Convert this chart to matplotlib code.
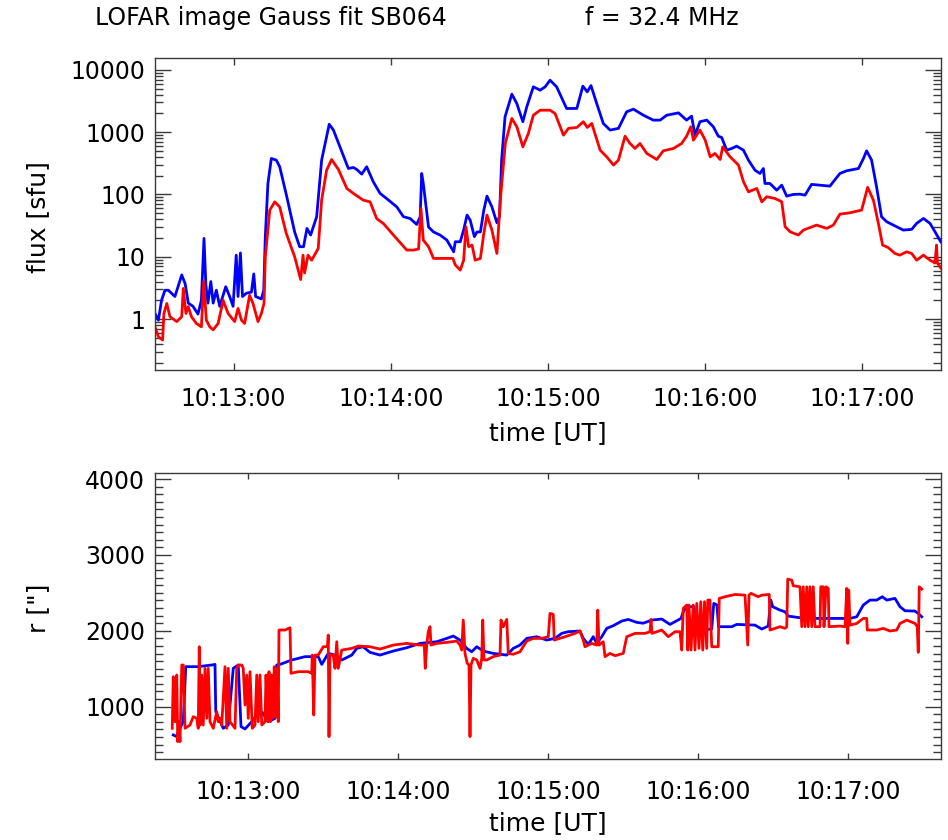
import matplotlib
matplotlib.use("Agg")
import matplotlib.pyplot as plt
from matplotlib.ticker import MultipleLocator, LogLocator, FuncFormatter, NullFormatter

# time axis: seconds after 10:12:00 UT
T0 = 10 * 3600 + 12 * 60

# ── top panel: flux [sfu] ──
t_flux_blue = [30.0, 31.3, 32.5, 33.8, 35.1, 37.6, 40.2, 41.5, 42.7, 44.5, 46.4, 47.7, 48.7, 49.4,
               50.2, 51.3, 52.2, 53.4, 54.7, 57.0, 58.5, 59.8, 61.0, 61.7, 62.6, 63.4, 64.9, 66.8,
               67.7, 68.4, 70.6, 71.5, 72.1, 73.1, 74.4, 76.3, 77.6, 80.1, 83.3, 85.2, 86.7, 88.0,
               89.4, 91.7, 93.6, 96.5, 98.1, 100.6, 103.8, 105.7, 107.0, 108.9, 110.8, 113.3, 115.9,
               118.4, 122.3, 124.8, 127.4, 129.9, 131.2, 131.8, 132.4, 134.4, 136.3, 138.8, 141.4,
               144.0, 144.6, 146.5, 147.8, 149.1, 150.3, 151.9, 152.9, 154.2, 155.5, 156.7, 158.6,
               160.5, 161.5, 162.3, 163.6, 166.2, 168.1, 170.4, 171.9, 174.4, 177.0, 178.9, 180.8,
               183.3, 187.1, 191.0, 193.3, 195.0, 196.4, 198.6, 201.1, 203.7, 206.9, 210.0, 212.6,
               216.4, 220.2, 222.8, 225.3, 229.8, 232.9, 234.8, 236.1, 238.0, 240.6, 243.1, 245.0,
               246.3, 248.2, 250.1, 252.0, 254.6, 256.5, 259.0, 260.9, 262.2, 262.8, 264.7, 267.3,
               269.2, 271.1, 273.6, 276.2, 278.1, 280.6, 283.8, 287.6, 291.4, 294.0, 298.5, 300.4,
               301.6, 303.5, 305.4, 307.3, 309.3, 311.8, 315.6, 318.8, 320.7, 323.3, 325.8, 327.7,
               329.9]
flux_blue = [1.23, 0.96, 2.0, 2.9, 2.9, 2.3, 5.1, 3.7, 1.8, 1.6, 1.2, 2.0, 19.7, 3.6,
             1.8, 4.0, 1.8, 2.9, 1.6, 3.3, 2.3, 1.6, 10.6, 2.3, 11.5, 2.3, 2.6, 2.7,
             5.3, 2.3, 2.1, 2.9, 20.9, 150, 378, 356, 278, 100, 25, 14.5, 14.5, 28.5,
             22.3, 43.8, 356, 1340, 1080, 582, 261, 271, 252, 212, 278, 160, 104,
             86, 63, 44, 41, 33, 43.8, 217, 150, 30, 25, 22.3, 18.5,
             12, 17.4, 17.4, 26.8, 46.6, 38.7, 21, 25, 25, 56, 94, 63,
             35, 44, 356, 1760, 4070, 2880, 1470, 2550, 5340, 4720, 5340, 6820,
             5340, 2400, 2400, 5470, 4440, 5600, 2880, 1380, 1080, 1150, 2120, 2340,
             1870, 1560, 1560, 1870, 2040, 1560, 1810, 895, 1470, 1560, 1220, 862,
             821, 514, 547, 596, 514, 356, 245, 217, 261, 150, 150, 117,
             141, 94, 100, 101, 97.5, 145, 141, 136, 217, 240, 261, 378,
             502, 356, 133, 43.8, 36.4, 32.2, 26.8, 27.5, 34.3, 41.2, 34.3, 25.2,
             17.4]

t_flux_red = [30.0, 31.3, 32.9, 33.4, 34.5, 35.7, 38.3, 40.2, 40.8, 41.8, 42.7, 43.9, 45.8, 47.7,
              48.6, 49.6, 50.9, 52.2, 54.1, 56.0, 57.9, 60.4, 61.7, 63.0, 64.2, 66.1, 67.4, 69.3,
              70.6, 71.6, 72.1, 73.8, 75.7, 77.6, 80.1, 83.3, 85.6, 86.5, 87.1, 88.4, 89.8, 92.3,
              93.6, 95.5, 97.4, 100.0, 103.2, 105.7, 109.5, 112.1, 114.6, 117.2, 121.0, 126.1,
              128.6, 130.6, 131.5, 132.4, 134.4, 136.3, 143.7, 144.6, 146.5, 147.8, 148.7, 149.7,
              151.0, 152.2, 154.2, 155.5, 156.7, 158.6, 160.5, 161.8, 163.7, 166.2, 168.1, 170.4,
              172.5, 174.4, 177.0, 180.8, 182.7, 185.9, 187.8, 191.0, 193.5, 195.0, 196.7, 199.9,
              202.4, 205.0, 206.9, 209.4, 211.3, 213.2, 215.1, 217.7, 221.5, 224.0, 227.9, 231.0,
              232.9, 234.5, 235.5, 238.0, 240.0, 241.9, 243.7, 245.7, 246.7, 249.5, 252.7, 254.6,
              256.5, 259.7, 261.6, 263.5, 266.6, 269.2, 270.5, 272.4, 275.5, 277.5, 282.5, 286.4,
              288.9, 291.4, 295.3, 299.7, 302.0, 304.2, 306.1, 307.7, 309.9, 312.4, 314.3, 316.9,
              318.8, 320.7, 323.3, 325.8, 327.7, 328.3, 328.6, 329.9]
flux_red = [0.75, 0.52, 0.46, 1.23, 1.78, 1.09, 0.91, 1.09, 3.1, 1.23, 1.58, 1.09, 0.85, 0.75,
            4.0, 0.96, 0.75, 0.67, 0.85, 2.0, 1.23, 0.91, 1.48, 0.96, 0.85, 2.4, 1.78, 0.91,
            1.23, 1.78, 10, 56, 76, 63, 23.7, 10, 4.3, 10.6, 5.5, 10.6, 8.8, 13.6,
            81, 245, 364, 252, 125, 104, 81, 76, 41, 34, 22.3, 12.8,
            12.8, 13.3, 59.6, 18.5, 14.5, 9.4, 9.4, 7.4, 6.1, 8.8, 30, 14.5,
            15.4, 8.8, 9.4, 23.7, 46.6, 26.8, 11.3, 81, 658, 1660, 1220, 582,
            952, 1870, 2250, 2250, 1990, 895, 1150, 1190, 1470, 1190, 1380, 514,
            402, 296, 356, 862, 658, 547, 658, 455, 364, 502, 547, 658,
            862, 1220, 744, 1080, 744, 402, 455, 364, 582, 402, 296, 160,
            110, 125, 76, 91.8, 86.3, 76.3, 30.3, 25.2, 22.3, 26.8, 32.2, 28.5,
            32.2, 48.3, 50.8, 56.1, 130, 81, 34.3, 15.4, 14.0, 11.3, 10.6, 12.0,
            11.3, 8.8, 10.6, 8.8, 8.0, 15.4, 8.0, 6.6]

# ── bottom panel: source distance r ["] ──
t_r_blue = [30.1, 31.5, 32.1, 34.1, 35.1, 40.1, 45.5, 46.8, 47.1, 50.1, 52.1, 54.1, 56.1, 57.2,
            58.8, 61.5, 63.5, 65.5, 68.1, 70.8, 71.5, 72.8, 77.5, 82.8, 88.1, 89.5, 92.1, 94.8,
            97.5, 101.5, 103.5, 106.0, 108.8, 112.8, 118.1, 123.5, 128.8, 135.5, 139.5, 142.1,
            144.8, 147.5, 149.5, 151.5, 154.1, 158.1, 163.5, 166.1, 168.8, 171.5, 175.5, 179.5,
            182.8, 185.5, 188.1, 192.8, 194.1, 196.1, 198.1, 199.5, 201.5, 203.5, 206.1, 209.5,
            212.1, 215.5, 218.1, 221.5, 225.5, 228.8, 230.8, 233.2, 234.1, 235.5, 238.4, 238.8,
            245.5, 246.3, 247.6, 248.2, 253.5, 255.5, 262.8, 265.5, 268.1, 269.1, 269.9, 272.8,
            274.8, 276.1, 280.8, 287.5, 300.8, 303.5, 306.1, 308.8, 311.5, 313.7, 315.5, 318.8,
            320.8, 322.8, 326.8, 328.1, 329.5]
r_blue = [627, 605, 671, 802, 1527, 1527, 1549, 1557, 934, 715, 758, 1505, 1549, 737,
          706, 802, 890, 934, 802, 846, 1549, 1557, 1615, 1659, 1659, 1557, 1702, 1680,
          1615, 1680, 1768, 1790, 1716, 1680, 1733, 1777, 1834, 1856, 1900, 1931,
          1878, 1768, 1724, 1790, 1733, 1702, 1680, 1768, 1812, 1900, 1922, 1878,
          1900, 1966, 1988, 1997, 1900, 1821, 1922, 1834, 1922, 2032, 2067, 2128,
          2150, 2111, 2100, 2141, 2155, 2084, 2120, 2163, 2251, 2317, 2317, 2010,
          2023, 2361, 2340, 2054, 2054, 2084, 2075, 2023, 2062, 2405, 2317, 2273,
          2251, 2194, 2172, 2163, 2163, 2185, 2339, 2405, 2405, 2449, 2405, 2427,
          2317, 2264, 2260, 2229, 2185]

t_r_red = [29.7, 30.1, 30.8, 31.5, 31.9, 32.4, 32.8, 33.5, 34.1, 34.8, 36.8, 38.1, 39.5, 40.1,
           40.5, 40.9, 41.5, 42.1, 42.8, 43.5, 44.1, 44.8, 46.1, 47.5, 48.1, 48.8, 49.5, 50.8,
           51.5, 52.1, 52.8, 54.8, 55.5, 56.1, 57.5, 58.1, 58.8, 59.5, 60.1, 60.8, 61.7, 62.8,
           63.5, 64.1, 64.8, 65.5, 66.8, 67.2, 67.9, 68.4, 68.9, 69.5, 70.0, 70.5, 71.1, 71.6,
           72.1, 72.4, 74.8, 76.8, 77.2, 80.1, 84.1, 85.5, 85.7, 86.3, 86.8, 88.1, 90.1, 91.8,
           92.1, 92.4, 92.8, 94.1, 94.8, 95.5, 96.1, 97.5, 101.5, 104.1, 108.8, 112.8, 118.1,
           123.5, 128.8, 130.5, 130.9, 131.5, 132.1, 132.8, 133.2, 135.5, 139.5, 143.5, 144.8,
           145.5, 146.1, 146.8, 147.7, 148.4, 148.8, 149.2, 150.1, 151.5, 152.8, 153.5, 153.9,
           154.4, 155.5, 158.1, 160.8, 161.2, 162.1, 163.5, 164.1, 166.1, 168.8, 171.5, 174.1,
           177.5, 180.1, 180.8, 182.1, 182.5, 186.8, 190.8, 192.8, 194.1, 194.8, 197.5, 199.5,
           199.9, 200.4, 202.1, 202.8, 204.8, 206.8, 210.1, 211.5, 214.8, 218.8, 220.8, 221.2,
           221.6, 225.5, 228.1, 230.8, 232.8, 233.5, 234.1, 235.5, 235.9, 236.4, 237.2, 238.1,
           238.8, 239.5, 240.4, 241.1, 241.9, 242.6, 243.5, 243.9, 244.8, 245.5, 248.1, 248.5,
           250.8, 254.8, 258.8, 259.9, 260.4, 261.2, 264.1, 265.5, 268.5, 268.8, 272.8, 274.8,
           275.5, 275.9, 277.5, 278.1, 280.8, 281.5, 282.1, 282.8, 283.5, 284.1, 284.8, 285.5,
           286.1, 286.8, 288.8, 289.1, 290.1, 290.4, 291.2, 292.1, 292.4, 296.8, 298.8, 299.5,
           299.9, 300.3, 300.8, 303.5, 306.1, 307.5, 307.7, 311.5, 314.1, 316.8, 319.5, 320.8,
           323.5, 326.8, 327.7, 328.1, 328.5, 329.5]
r_red = [715, 1395, 802, 1417, 539, 802, 539, 1549, 1549, 715, 758, 868, 846, 715,
         1790, 758, 1417, 758, 1505, 846, 1505, 802, 715, 934, 802, 846, 758, 1527,
         715, 1505, 802, 715, 1505, 1549, 1549, 1505, 1022, 1417, 846, 1461, 715, 758,
         1417, 802, 1417, 758, 802, 1417, 802, 1461, 802, 1417, 846, 1527, 868, 1505,
         802, 2010, 2010, 2040, 1439, 1461, 1461, 1439, 1680, 890, 1680, 1680, 1790, 1790,
         1944, 605, 1680, 1680, 1505, 1856, 1505, 1746, 1768, 1799, 1790, 1759, 1812,
         1834, 1812, 1812, 1505, 1812, 1988, 2054, 1812, 1834, 1847, 1865, 1812,
         1746, 2141, 1702, 1571, 1549, 605, 1549, 1637, 1615, 1505, 1637, 2141,
         1615, 1615, 1659, 1680, 2141, 2054, 2150, 1702, 1690, 1724, 1865, 1900,
         1900, 1922, 2229, 2216, 1878, 1922, 1966, 1997, 1878, 1790, 1834, 1812,
         2273, 1812, 1856, 1659, 1702, 1672, 1702, 1922, 1966, 1966, 1988, 2150,
         1966, 2010, 1922, 1988, 1988, 1746, 2295, 2339, 1746, 2339, 1746, 2339,
         1746, 2361, 1768, 2383, 1746, 2383, 1768, 2405, 2405, 1790, 1790, 2427,
         2449, 2479, 2470, 1812, 2470, 2493, 2449, 2470, 2479, 2010, 2054, 2032,
         2054, 2681, 2668, 2594, 2580, 2054, 2580, 2054, 2580, 2054, 2580, 2054,
         2580, 2054, 2054, 2580, 2580, 2054, 2580, 2559, 2054, 2062, 2054, 2559,
         1834, 2537, 2075, 2097, 2163, 2163, 2010, 2010, 2032, 1997, 2010, 2097,
         2141, 2097, 2054, 1716, 2580, 2550]

FS = 17
SPINE = "#3a3a3a"
LW = 2.0


def hms(x, pos=None):
    s = int(round(x))
    return "%02d:%02d:%02d" % (s // 3600, (s % 3600) // 60, s % 60)


def style_axes(ax, ylen, xlen, xpad):
    for sp in ax.spines.values():
        sp.set_color(SPINE)
        sp.set_linewidth(1.0)
    ax.xaxis.set_major_locator(MultipleLocator(60))
    ax.xaxis.set_major_formatter(FuncFormatter(hms))
    ax.tick_params(axis="x", which="major", direction="in", top=True, bottom=True,
                   length=xlen, width=1.0, color=SPINE, labelsize=FS, pad=xpad)
    ax.tick_params(axis="y", which="major", direction="in", left=True, right=True,
                   length=ylen, width=1.0, color=SPINE, labelsize=FS, pad=7)
    ax.tick_params(axis="y", which="minor", direction="in", left=True, right=True,
                   length=ylen / 2, width=1.0, color=SPINE)
    ax.tick_params(axis="x", which="minor", bottom=False, top=False)


fig = plt.figure(figsize=(9.48, 8.4), dpi=100)
fig.patch.set_facecolor("white")

# top panel
ax1 = fig.add_axes([155 / 948, 1 - 370 / 840, 786 / 948, 312 / 840])
ax1.plot([T0 + t for t in t_flux_blue], flux_blue, color="#0000ff", lw=LW)
ax1.plot([T0 + t for t in t_flux_red], flux_red, color="#ff0000", lw=LW)
ax1.set_yscale("log")
ax1.set_xlim(T0 + 30, T0 + 330)
ax1.set_ylim(0.152, 15500)
ax1.yaxis.set_major_locator(LogLocator(base=10, numticks=10))
ax1.yaxis.set_minor_locator(LogLocator(base=10, subs=range(2, 10), numticks=20))
ax1.yaxis.set_major_formatter(FuncFormatter(lambda v, p: "%d" % round(v)))
ax1.yaxis.set_minor_formatter(NullFormatter())
style_axes(ax1, 11.5, 4.7, 12)

# bottom panel
ax2 = fig.add_axes([155 / 948, 1 - 759 / 840, 786 / 948, 286 / 840])
ax2.plot([T0 + t for t in t_r_blue], r_blue, color="#0000ff", lw=LW)
ax2.plot([T0 + t for t in t_r_red], r_red, color="#ff0000", lw=LW)
ax2.set_xlim(T0 + 22.8, T0 + 337.2)
ax2.set_ylim(310, 4080)
ax2.yaxis.set_major_locator(MultipleLocator(1000))
ax2.yaxis.set_minor_locator(MultipleLocator(100))
style_axes(ax2, 11.5, 4.2, 15)

# labels
fig.text(95 / 948, 1 - 25 / 840, "LOFAR image Gauss fit SB064", fontsize=FS,
         ha="left", va="baseline")
fig.text(585 / 948, 1 - 25 / 840, "f = 32.4 MHz", fontsize=FS, ha="left", va="baseline")
fig.text(38 / 948, 1 - 217 / 840, "flux [sfu]", fontsize=18, rotation=90,
         ha="center", va="center")
fig.text(38 / 948, 1 - 608 / 840, 'r ["]', fontsize=18, rotation=90,
         ha="center", va="center")
fig.text(548 / 948, 1 - 433 / 840, "time [UT]", fontsize=18, ha="center", va="center")
fig.text(548 / 948, 1 - 823 / 840, "time [UT]", fontsize=18, ha="center", va="center")

fig.savefig("out.png", dpi=100, facecolor="white")
print("out.png saved")
